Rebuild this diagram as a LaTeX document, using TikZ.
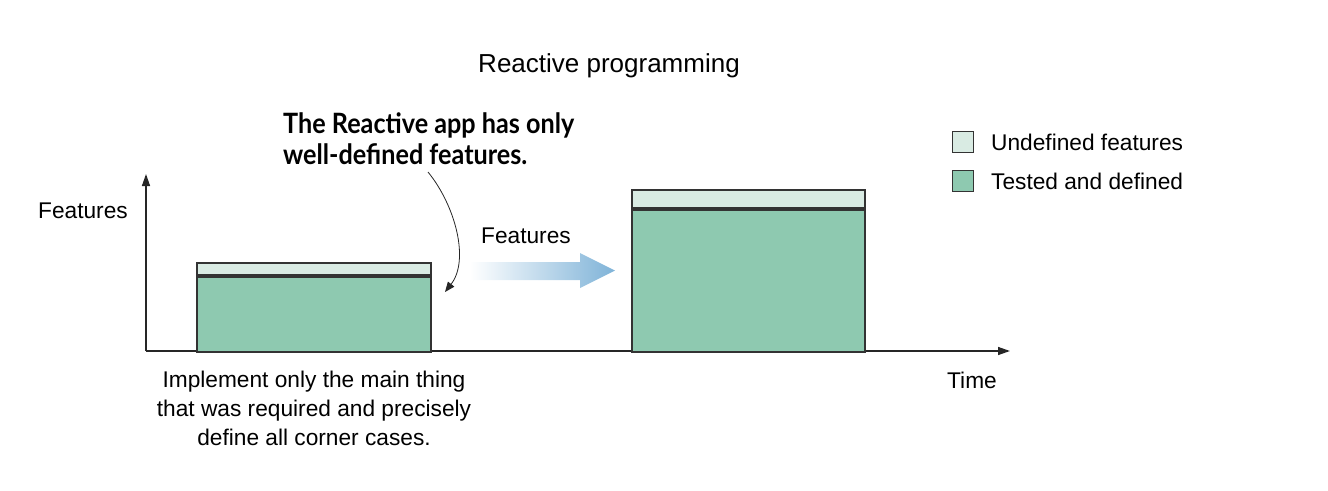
\documentclass[tikz,border=0pt]{standalone}
\usepackage{fontspec}
\setmainfont{Liberation Sans}
\newfontfamily\notefont[FakeStretch=0.9]{Lato}
\usetikzlibrary{arrows.meta,shapes.arrows}
\definecolor{tested}{HTML}{8EC9B0}
\definecolor{undef}{HTML}{D9EBE3}
\definecolor{edge}{HTML}{333333}
\definecolor{flow}{HTML}{7FB3D8}
\tikzset{
  lbl/.style={font=\fontsize{22.7}{27}\selectfont, text=black, inner sep=0pt},
  barpart/.style={draw=edge, line width=1.6pt},
  axis/.style={draw=black!85, line width=1.4pt, -{Triangle[length=12pt,width=8pt]}},
}
\begin{document}
\begin{tikzpicture}[x=1pt,y=-1pt]
\useasboundingbox (0,0) rectangle (1328,490);
% title
\node[lbl, font=\fontsize{26}{30}\selectfont] (title) at (609,66) {Reactive programming};
% axes
\coordinate (origin) at (146,351);
\coordinate (ytip) at (146,174);
\coordinate (xtip) at (1010,351);
\draw[axis] (origin) -- (ytip);
\draw[axis] (origin) -- (xtip);
\node[lbl, anchor=west] (ylab) at (38,211) {Features};
\node[lbl, anchor=west] (xlab) at (947,380) {Time};
% left bar
\node[barpart, fill=tested, minimum width=234pt, minimum height=75pt, inner sep=0pt, anchor=north west] (lbar) at (196,276) {};
\node[barpart, fill=undef, minimum width=234pt, minimum height=12pt, inner sep=0pt, anchor=south west] (ltop) at (196,276) {};
% right bar
\node[barpart, fill=tested, minimum width=233pt, minimum height=142pt, inner sep=0pt, anchor=north west] (rbar) at (631,209) {};
\node[barpart, fill=undef, minimum width=233pt, minimum height=18pt, inner sep=0pt, anchor=south west] (rtop) at (631,209) {};
% bottom caption
\node[lbl, align=center, font=\fontsize{22.7}{29}\selectfont, anchor=north] (cap) at (314,371) {Implement only the main thing\\that was required and precisely\\define all corner cases.};
% annotation
\node[inner sep=0pt, anchor=base west, align=left, font=\notefont\bfseries\fontsize{28}{31}\selectfont] (note) at (283,164) {The Reactive app has only\\well-defined features.};
\coordinate (nstart) at (428,172);
\coordinate (nend) at (445,292);
\draw[line width=0.8pt, black!85, -{Triangle[length=10pt,width=8pt]}] (nstart) .. controls (455,205) and (470,260) .. (nend);
% gradient arrow
\shade[left color=white, right color=flow, shading angle=90] (470,262) -- (580,262) -- (580,253) -- (615,270.5) -- (580,288) -- (580,280) -- (470,280) -- cycle;
\node[lbl, anchor=west] (flab) at (481,236) {Features};
% legend
\node[barpart, fill=undef, minimum size=21pt, inner sep=0pt] (lg1) at (963,142) {};
\node[lbl, anchor=west] (lg1t) at (991,142) {Undefined features};
\node[barpart, fill=tested, minimum size=21pt, inner sep=0pt] (lg2) at (963,181) {};
\node[lbl, anchor=west] (lg2t) at (991,181) {Tested and defined};
\end{tikzpicture}
\end{document}
